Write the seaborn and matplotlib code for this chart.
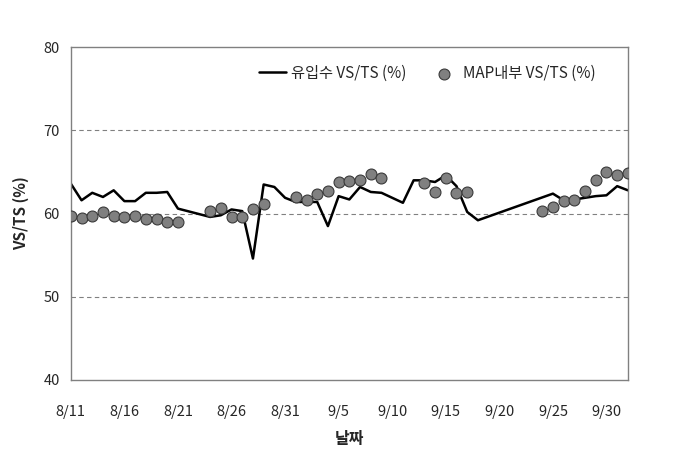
import matplotlib
matplotlib.use("Agg")
import matplotlib.pyplot as plt
import seaborn as sns
import pandas as pd

# 유입수 VS/TS (%) — line
inflow_dates = ["2023-08-11", "2023-08-12", "2023-08-13", "2023-08-14", "2023-08-15",
                "2023-08-16", "2023-08-17", "2023-08-18", "2023-08-19", "2023-08-20",
                "2023-08-21",
                "2023-08-24", "2023-08-25", "2023-08-26", "2023-08-27", "2023-08-28",
                "2023-08-29", "2023-08-30", "2023-08-31", "2023-09-01", "2023-09-02",
                "2023-09-03", "2023-09-04", "2023-09-05", "2023-09-06", "2023-09-07",
                "2023-09-08", "2023-09-09", "2023-09-10", "2023-09-11", "2023-09-12",
                "2023-09-13", "2023-09-14", "2023-09-15", "2023-09-16", "2023-09-17",
                "2023-09-18",
                "2023-09-25", "2023-09-26", "2023-09-27", "2023-09-28", "2023-09-29",
                "2023-09-30", "2023-10-01", "2023-10-02"]
inflow_values = [63.6, 61.6, 62.5, 62.0, 62.8, 61.5, 61.5, 62.5, 62.5, 62.6,
                 60.6,
                 59.6, 59.8, 60.5, 60.3, 54.6, 63.5, 63.2, 61.9, 61.4, 61.4,
                 61.4, 58.5, 62.1, 61.7, 63.2, 62.6, 62.5, 61.9, 61.3, 64.0,
                 64.0, 63.8, 64.6, 63.3, 60.2, 59.2,
                 62.4, 61.6, 61.7, 61.9, 62.1, 62.2, 63.3, 62.8]

# MAP내부 VS/TS (%) — markers
map_dates = ["2023-08-11", "2023-08-12", "2023-08-13", "2023-08-14", "2023-08-15",
             "2023-08-16", "2023-08-17", "2023-08-18", "2023-08-19", "2023-08-20",
             "2023-08-21",
             "2023-08-24", "2023-08-25", "2023-08-26", "2023-08-27", "2023-08-28",
             "2023-08-29",
             "2023-09-01", "2023-09-02", "2023-09-03", "2023-09-04", "2023-09-05",
             "2023-09-06", "2023-09-07", "2023-09-08", "2023-09-09",
             "2023-09-13", "2023-09-14", "2023-09-15", "2023-09-16", "2023-09-17",
             "2023-09-24", "2023-09-25", "2023-09-26", "2023-09-27", "2023-09-28",
             "2023-09-29", "2023-09-30", "2023-10-01", "2023-10-02"]
map_values = [59.7, 59.5, 59.7, 60.2, 59.7, 59.6, 59.7, 59.3, 59.3, 59.0,
              59.0,
              60.3, 60.7, 59.6, 59.6, 60.5, 61.1,
              62.0, 61.6, 62.4, 62.7, 63.8, 63.9, 64.0, 64.8, 64.3,
              63.7, 62.6, 64.3, 62.5, 62.6,
              60.3, 60.8, 61.5, 61.6, 62.7, 64.0, 65.0, 64.6, 64.9]

tick_dates = ["2023-08-11", "2023-08-16", "2023-08-21", "2023-08-26", "2023-08-31",
              "2023-09-05", "2023-09-10", "2023-09-15", "2023-09-20", "2023-09-25",
              "2023-09-30"]
tick_labels = ["8/11", "8/16", "8/21", "8/26", "8/31", "9/5", "9/10", "9/15",
               "9/20", "9/25", "9/30"]
y_ticks = [40, 50, 60, 70, 80]

sns.set_style("white")
plt.rcParams["font.family"] = ["Noto Sans CJK KR", "DejaVu Sans"]

df_line = pd.DataFrame({"date": pd.to_datetime(inflow_dates), "value": inflow_values})
df_map = pd.DataFrame({"date": pd.to_datetime(map_dates), "value": map_values})

fig = plt.figure(figsize=(6.81, 4.54), dpi=100)
ax = fig.add_axes([0.104, 0.163, 0.818, 0.733])

for y in [50, 60, 70]:
    ax.axhline(y, color="#808080", linestyle=(0, (4, 3)), linewidth=0.8, zorder=0)

sns.lineplot(data=df_line, x="date", y="value", ax=ax, color="black",
             linewidth=1.8, label="유입수 VS/TS (%)", zorder=2)
sns.scatterplot(data=df_map, x="date", y="value", ax=ax, color="#808080",
                edgecolor="#3a3a3a", linewidth=0.8, s=62,
                label="MAP내부 VS/TS (%)", zorder=3)

ax.set_xlim(pd.Timestamp("2023-08-11"), pd.Timestamp("2023-10-02"))
ax.set_ylim(40, 80)
ax.set_xticks(pd.to_datetime(tick_dates))
ax.set_xticklabels(tick_labels)
ax.set_yticks(y_ticks)
ax.tick_params(axis="x", direction="in", length=5, color="#808080",
               labelsize=10.5, pad=18)
ax.tick_params(axis="y", length=0, labelsize=10.5, pad=8)

for sp in ax.spines.values():
    sp.set_color("#808080")
    sp.set_linewidth(1.0)
    sp.set_visible(True)

ax.set_xlabel("날짜", fontsize=11.5, fontweight="bold", labelpad=9)
ax.set_ylabel("VS/TS (%)", fontsize=11, fontweight="bold", labelpad=10)

ax.legend(loc="center right", bbox_to_anchor=(0.955, 0.922), ncol=2, frameon=False,
          fontsize=11, handlelength=1.8, columnspacing=1.6, handletextpad=0.3,
          borderpad=0)

fig.savefig("out.png", dpi=100)
